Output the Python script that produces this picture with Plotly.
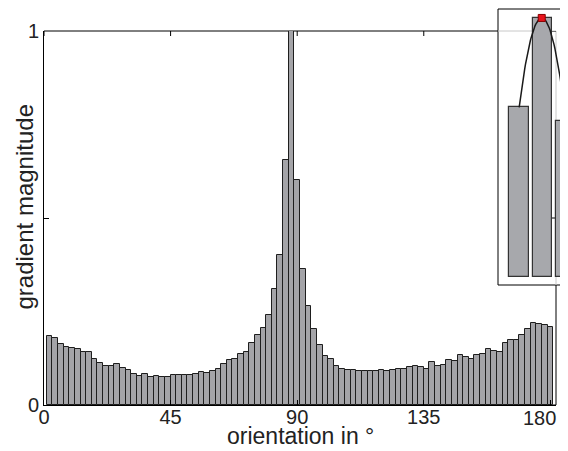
import numpy as np
import plotly.graph_objects as go

# ---------------- data ----------------
bin_centers = list(range(2, 182, 2))          # 2-degree orientation bins
magnitude = [
    0.184, 0.179, 0.162, 0.154, 0.152, 0.151, 0.143, 0.141, 0.122, 0.113, 0.104, 0.104, 0.109, 0.100, 0.093,
    0.084, 0.078, 0.082, 0.076, 0.077, 0.075, 0.076, 0.079, 0.081, 0.079, 0.081, 0.082, 0.087, 0.086, 0.090,
    0.097, 0.110, 0.119, 0.124, 0.136, 0.143, 0.165, 0.186, 0.205, 0.241, 0.310, 0.401, 0.655, 1.000, 0.602,
    0.363, 0.265, 0.202, 0.160, 0.131, 0.122, 0.105, 0.095, 0.093, 0.093, 0.092, 0.092, 0.091, 0.092, 0.093,
    0.090, 0.093, 0.096, 0.096, 0.101, 0.104, 0.101, 0.096, 0.115, 0.103, 0.106, 0.119, 0.118, 0.133, 0.129,
    0.123, 0.133, 0.137, 0.149, 0.145, 0.141, 0.167, 0.175, 0.175, 0.187, 0.202, 0.218, 0.216, 0.214, 0.209,
]
x_tickvals = [0, 45, 90, 135, 180]
x_ticktext = ["0", "45", "90", "135", ""]
last_x_label = "180"   # drawn separately, kept inside the right edge as in the original
y_tickvals = [0, 0.5, 1]
y_ticktext = ["0", "", "1"]
x_title = "orientation in °"
y_title = "gradient magnitude"

# inset: the peak bin and its two neighbours
peak_idx = int(np.argmax(magnitude))
inset_x = [1, 2, 3]
inset_y = magnitude[peak_idx - 1: peak_idx + 2]

# parabolic interpolation through the three inset bars
coef = np.polyfit(inset_x, inset_y, 2)
curve_x = np.linspace(inset_x[0], inset_x[-1], 60)
curve_y = np.polyval(coef, curve_x)
vx = -coef[1] / (2 * coef[0])
vy = np.polyval(coef, vx)

# ---------------- layout geometry ----------------
W, H = 568, 451
OFF = 8  # page body margin of the default html page
def xp(px):
    return (px - OFF) / W
def yp(py):
    return 1 - (py - OFF) / H

L, R, T, B = 44, 556, 31, 405
INS_L, INS_T, INS_B = 498, 9, 285

BAR_FILL = "#a4a4a8"
BAR_LINE = "#1e1e1e"
FONT = "Liberation Sans, Arial, sans-serif"
TXT = "#222222"
TICK_SIZE = 20
TITLE_SIZE = 23

fig = go.Figure()
fig.add_trace(go.Bar(
    x=bin_centers, y=magnitude, width=2,
    marker=dict(color=BAR_FILL, line=dict(color=BAR_LINE, width=1)),
    xaxis="x", yaxis="y", showlegend=False, hoverinfo="skip",
))
fig.add_trace(go.Bar(
    x=inset_x, y=inset_y, width=0.83,
    marker=dict(color="#a7a8ac", line=dict(color="#333333", width=1.2)),
    xaxis="x2", yaxis="y2", showlegend=False, hoverinfo="skip",
))
fig.add_trace(go.Scatter(
    x=curve_x, y=curve_y, mode="lines",
    line=dict(color="#1a1a1a", width=1.5),
    xaxis="x2", yaxis="y2", showlegend=False, hoverinfo="skip",
))
fig.add_trace(go.Scatter(
    x=[vx], y=[vy], mode="markers",
    marker=dict(symbol="square", size=7, color="#e8141c", line=dict(color="#8a0000", width=1)),
    xaxis="x2", yaxis="y2", showlegend=False, hoverinfo="skip",
))

shapes = []
# inset panel background / frame
shapes.append(dict(type="rect", xref="paper", yref="paper",
                   x0=xp(INS_L), x1=1.1, y0=yp(INS_B), y1=yp(INS_T),
                   fillcolor="white", line=dict(color="black", width=1), layer="below"))
fx = (INS_L - L) / (R - L)
fy = (B - INS_B) / (B - T)
# main box top and right edges (grey where seen through the inset)
shapes += [
    dict(type="line", xref="x domain", yref="y domain", x0=0, x1=fx, y0=1, y1=1,
         line=dict(color="black", width=1), layer="below"),
    dict(type="line", xref="x domain", yref="y domain", x0=fx, x1=1, y0=1, y1=1,
         line=dict(color="#c8c8c8", width=1), layer="below"),
    dict(type="line", xref="x domain", yref="y domain", x0=1, x1=1, y0=0, y1=fy,
         line=dict(color="black", width=1), layer="below"),
    dict(type="line", xref="x domain", yref="y domain", x0=1, x1=1, y0=fy, y1=1,
         line=dict(color="#c8c8c8", width=1), layer="below"),
]
# mirrored ticks on top and right
for t in x_tickvals:
    shapes.append(dict(type="line", xref="x", yref="y domain", x0=t, x1=t,
                       y0=1, y1=1 - 5 / (B - T), line=dict(color="black", width=1), layer="below"))
for t in y_tickvals:
    shapes.append(dict(type="line", xref="x domain", yref="y", x0=1, x1=1 - 5 / (R - L),
                       y0=t, y1=t, line=dict(color="black", width=1), layer="below"))

annotations = [
    dict(text=x_title, xref="paper", yref="paper", x=xp((L + R) / 2), y=yp(451),
         xanchor="center", yanchor="bottom", showarrow=False,
         font=dict(size=TITLE_SIZE, family=FONT, color=TXT)),
    dict(text=y_title, xref="paper", yref="paper", x=xp(9), y=yp(207),
         xanchor="left", yanchor="middle", showarrow=False, textangle=-90,
         font=dict(size=TITLE_SIZE + 1, family=FONT, color=TXT)),
    dict(text=last_x_label, xref="paper", yref="paper", x=xp(558), y=yp(418),
         xanchor="right", yanchor="middle", showarrow=False,
         font=dict(size=TICK_SIZE, family=FONT, color=TXT)),
]

fig.update_layout(
    width=W, height=H,
    margin=dict(l=0, r=0, t=0, b=0, autoexpand=False),
    paper_bgcolor="white", plot_bgcolor="rgba(0,0,0,0)",
    bargap=0, barmode="overlay",
    font=dict(family=FONT, color=TXT, size=TICK_SIZE),
    shapes=shapes, annotations=annotations,
    xaxis=dict(domain=[xp(L), xp(R)], range=[0, 182], anchor="y", automargin=False,
               tickvals=x_tickvals, ticktext=x_ticktext,
               ticks="inside", ticklen=5, tickcolor="black", ticklabelstandoff=-6,
               showline=True, linecolor="black", linewidth=1, mirror=False,
               showgrid=False, zeroline=False,
               tickfont=dict(size=TICK_SIZE, family=FONT, color=TXT)),
    yaxis=dict(domain=[yp(B), yp(T)], range=[0, 1], anchor="x", automargin=False,
               tickvals=y_tickvals, ticktext=y_ticktext,
               ticks="inside", ticklen=5, tickcolor="black",
               showline=True, linecolor="black", linewidth=1, mirror=False,
               showgrid=False, zeroline=False,
               tickfont=dict(size=TICK_SIZE, family=FONT, color=TXT)),
    xaxis2=dict(domain=[xp(INS_L), 1], range=[0.095, 3.43], anchor="y2", visible=False),
    yaxis2=dict(domain=[yp(INS_B), yp(INS_T)], range=[-0.031, 1.035], anchor="x2", visible=False),
)

fig.write_html("out.html")
